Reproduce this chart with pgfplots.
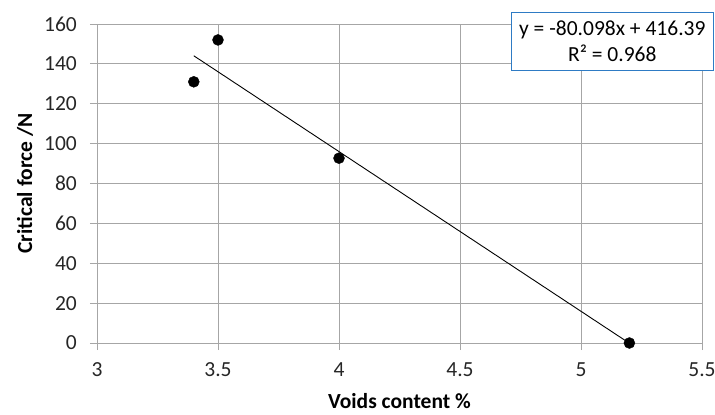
\documentclass[border=0pt]{standalone}
\usepackage{fontspec}
\setmainfont{Carlito}
\usepackage{pgfplots}
\pgfplotsset{compat=1.18}
\definecolor{GridGray}{HTML}{A6A6A6}
\definecolor{BoxBlue}{HTML}{2E7BC4}

\begin{document}
\begin{tikzpicture}
\useasboundingbox (-97pt,-72pt) rectangle (618pt,343pt);
\begin{axis}[
  scale only axis, width=605pt, height=319pt,
  at={(0,0)}, anchor=south west,
  xmin=3, xmax=5.5, ymin=0, ymax=160,
  xtick={3,3.5,...,5.5}, ytick={0,20,...,160},
  /pgf/number format/assume math mode=true,
  ticklabel style={font=\fontsize{21.5}{24}\selectfont, text=black!85, inner sep=0pt},
  xticklabel style={anchor=center, yshift=-20pt},
  yticklabel style={anchor=east, xshift=-13pt},
  axis line style={draw=GridGray, line width=0.9pt},
  grid=major, grid style={draw=GridGray, line width=0.9pt},
  tick style={draw=GridGray, line width=0.9pt},
  major tick length=7pt, tick align=outside,
  xtick pos=bottom, ytick pos=left,
  xlabel={\textbf{Voids content \%}},
  ylabel={\textbf{Critical force /N}},
  label style={font=\fontsize{21.5}{24}\selectfont, inner sep=0pt},
  xlabel style={at={(axis description cs:0.5,0)}, anchor=center, yshift=-58pt},
  ylabel style={at={(axis description cs:0,0.5)}, anchor=center, yshift=72pt},
  clip=false,
]
\addplot[only marks, mark=*, mark size=5.5pt, black] coordinates {
  (3.4,131) (3.5,152) (4.0,92.7) (5.2,0)};
\addplot[black, line width=0.9pt, no marks] coordinates {
  (3.4,144.06) (5.2,-0.12)};
\end{axis}
\node[draw=BoxBlue, line width=1.4pt, fill=white, anchor=north east,
  minimum width=202pt, minimum height=58pt, align=center,
  font=\fontsize{21.5}{26}\selectfont, inner sep=2pt]
  at (617pt,331pt) {y = -80.098x + 416.39\\R² = 0.968};
\end{tikzpicture}
\end{document}
